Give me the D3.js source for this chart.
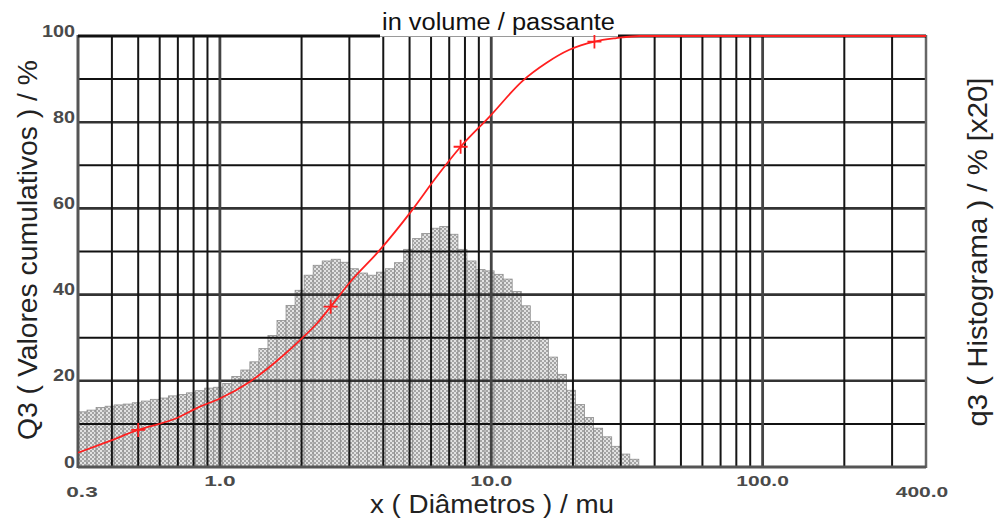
<!DOCTYPE html>
<html>
<head>
<meta charset="utf-8">
<script src="https://cdn.jsdelivr.net/npm/d3@7/dist/d3.min.js"></script>
<style>
  html, body { margin: 0; padding: 0; background: #fff; }
  svg { display: block; font-family: "Liberation Sans", Arial, sans-serif; }
</style>
</head>
<body>
<svg id="chart" width="995" height="524"></svg>
<script>
// Histogram class edges (diameter, µm) – 30 classes per decade
const binEdges = [
  0.3, 0.3239, 0.3498, 0.3777, 0.4078, 0.4403, 0.4755, 0.5134, 0.5543, 0.5986,
  0.6463, 0.6979, 0.7536, 0.8137, 0.8786, 0.9487, 1.0244, 1.1061, 1.1943, 1.2896,
  1.3925, 1.5036, 1.6235, 1.7530, 1.8929, 2.0439, 2.2069, 2.3830, 2.5731, 2.7784,
  3.0, 3.239, 3.498, 3.777, 4.078, 4.403, 4.755, 5.134, 5.543, 5.986,
  6.463, 6.979, 7.536, 8.137, 8.786, 9.487, 10.244, 11.061, 11.943, 12.896,
  13.925, 15.036, 16.235, 17.530, 18.929, 20.439, 22.069, 23.830, 25.731, 27.784,
  30.0, 32.39, 34.98
];

// q3 density per class (plotted ×20 on the left axis)
const q3Hist = [
  12.8, 13.2, 13.8, 14.1, 14.4, 14.6, 14.9, 15.3, 15.7, 16.0,
  16.5, 16.8, 17.2, 17.7, 18.3, 18.5, 19.4, 21.0, 22.5, 24.4,
  27.5, 30.5, 34.0, 37.5, 41.0, 44.5, 46.8, 47.8, 48.2, 47.5,
  46.0, 45.0, 44.5, 45.2, 46.0, 47.4, 50.5, 53.0, 54.2, 55.4,
  55.8, 54.0, 50.5, 47.8, 45.8, 45.5, 44.7, 43.6, 40.7, 37.4,
  33.8, 30.0, 25.5, 21.5, 17.8, 14.5, 11.5, 9.0, 7.0, 4.8,
  3.0, 1.8
];

// Cumulative passing curve Q3
const curveDiam = [0.3, 0.387, 0.5, 0.683, 0.844, 1.0, 1.29, 1.706, 1.97, 2.277, 2.56,
  3.01, 3.88, 5.01, 6.30, 7.71, 9.86, 13.05, 16.0, 19.4, 24.0, 28.9, 35.2, 400];
const curveQ3 = [3.3, 5.9, 8.6, 11.2, 14.0, 15.9, 19.8, 25.8, 29.4, 33.3, 37.2,
  42.8, 50.3, 58.9, 67.4, 74.3, 81.3, 89.6, 93.8, 96.8, 98.7, 99.5, 100, 100];

// Marked characteristic points on the curve
const markerDiam = [0.5, 2.56, 7.71, 24.0];
const markerQ3 = [8.6, 37.2, 74.3, 98.7];

// Grid and tick definitions
const gridDiamMinor = [0.4, 0.5, 0.6, 0.7, 0.8, 0.9, 2, 3, 4, 5, 6, 7, 8, 9,
  20, 30, 40, 50, 60, 70, 80, 90, 200, 300];
const gridDiamDecade = [1, 10, 100];
const gridQ3 = [10, 20, 30, 40, 50, 60, 70, 80, 90];
const yTickValues = [0, 20, 40, 60, 80, 100];
const xTickValues = [0.3, 1, 10, 100, 400];
const xTickText = ["0.3", "1.0", "10.0", "100.0", "400.0"];

const svg = d3.select("#chart");
const plotL = 78, plotR = 926, plotT = 36, plotB = 467;

const x = d3.scaleLog().domain([0.3, 400]).range([plotL, plotR]);
const y = d3.scaleLinear().domain([0, 100]).range([plotB, plotT]);

// dithered fill for the histogram
const defs = svg.append("defs");
const pat = defs.append("pattern")
  .attr("id", "dither").attr("width", 4).attr("height", 4)
  .attr("patternUnits", "userSpaceOnUse");
pat.append("rect").attr("width", 4).attr("height", 4).attr("fill", "#e2e2e2");
pat.append("rect").attr("x", 0).attr("y", 0).attr("width", 2).attr("height", 2).attr("fill", "#a4a4a4");
pat.append("rect").attr("x", 2).attr("y", 2).attr("width", 2).attr("height", 2).attr("fill", "#a4a4a4");

svg.append("rect").attr("width", 995).attr("height", 524).attr("fill", "#fff");

// histogram bars
const bins = q3Hist.map((v, i) => ({ x0: binEdges[i], x1: binEdges[i + 1], v }));
svg.append("g").selectAll("rect").data(bins).join("rect")
  .attr("x", d => x(d.x0))
  .attr("width", d => x(d.x1) - x(d.x0))
  .attr("y", d => y(d.v))
  .attr("height", d => y(0) - y(d.v))
  .attr("fill", "url(#dither)")
  .attr("stroke", "#8e8e8e")
  .attr("stroke-width", 0.8);

// horizontal grid
svg.append("g").selectAll("line").data(gridQ3).join("line")
  .attr("x1", plotL).attr("x2", plotR)
  .attr("y1", d => y(d)).attr("y2", d => y(d))
  .attr("stroke", d => d % 20 === 0 ? "#333" : "#111")
  .attr("stroke-width", d => d % 20 === 0 ? 2.6 : 2);

// vertical grid
svg.append("g").selectAll("line").data(gridDiamMinor).join("line")
  .attr("x1", d => x(d)).attr("x2", d => x(d))
  .attr("y1", plotT).attr("y2", plotB)
  .attr("stroke", "#151515").attr("stroke-width", 2);
svg.append("g").selectAll("line").data(gridDiamDecade).join("line")
  .attr("x1", d => x(d)).attr("x2", d => x(d))
  .attr("y1", plotT).attr("y2", plotB)
  .attr("stroke", "#444").attr("stroke-width", 2.8);

// frame
svg.append("line").attr("x1", plotL).attr("x2", plotL).attr("y1", plotT - 1).attr("y2", plotB + 1)
  .attr("stroke", "#555").attr("stroke-width", 3);
svg.append("line").attr("x1", plotR).attr("x2", plotR).attr("y1", plotT - 1).attr("y2", plotB + 1)
  .attr("stroke", "#666").attr("stroke-width", 2.5);
svg.append("line").attr("x1", plotL).attr("x2", plotR).attr("y1", plotB).attr("y2", plotB)
  .attr("stroke", "#555").attr("stroke-width", 3);

// title box interrupts the upper frame line
const titleX0 = 380, titleX1 = 618;
svg.append("line").attr("x1", plotL).attr("x2", titleX0).attr("y1", plotT).attr("y2", plotT)
  .attr("stroke", "#111").attr("stroke-width", 3);
svg.append("line").attr("x1", titleX0).attr("x2", titleX1).attr("y1", plotT + 0.5).attr("y2", plotT + 0.5)
  .attr("stroke", "#9a9a9a").attr("stroke-width", 1.2);
svg.append("line").attr("x1", titleX1).attr("x2", plotR).attr("y1", plotT).attr("y2", plotT)
  .attr("stroke", "#111").attr("stroke-width", 3);

// cumulative curve
const pts = curveDiam.map((d, i) => [x(d), y(curveQ3[i])]);
svg.append("path")
  .attr("d", d3.line().curve(d3.curveMonotoneX)(pts))
  .attr("fill", "none").attr("stroke", "#ff1f1f").attr("stroke-width", 1.8)
  .attr("stroke-linejoin", "round");

// + markers
const mk = markerDiam.map((d, i) => [x(d), y(markerQ3[i])]);
const mg = svg.append("g").attr("stroke", "#ff1f1f").attr("stroke-width", 1.8);
mg.selectAll("path").data(mk).join("path")
  .attr("d", d => `M${d[0] - 7},${d[1]}H${d[0] + 7}M${d[0]},${d[1] - 7}V${d[1] + 7}`);

// left tick labels
svg.append("g").selectAll("text").data(yTickValues).join("text")
  .attr("x", 75).attr("y", d => y(d) + 0.5)
  .attr("text-anchor", "end")
  .attr("font-size", 16).attr("font-weight", "bold").attr("fill", "#4a4a4a")
  .attr("textLength", d => String(d).length * 11)
  .attr("lengthAdjust", "spacingAndGlyphs")
  .text(d => d);

// bottom tick labels (end values on a lower row)
const xTickData = xTickValues.map((v, i) => ({ v, t: xTickText[i], low: i === 0 || i === xTickValues.length - 1 }));
svg.append("g").selectAll("text").data(xTickData).join("text")
  .attr("x", d => x(d.v) + (d.v === 0.3 ? 4 : d.v === 400 ? -4 : 0))
  .attr("y", d => d.low ? 497 : 486)
  .attr("text-anchor", "middle")
  .attr("font-size", 15).attr("font-weight", "bold").attr("fill", "#4a4a4a")
  .attr("textLength", d => d.t.length * 10.5)
  .attr("lengthAdjust", "spacingAndGlyphs")
  .text(d => d.t);

// title
svg.append("rect").attr("x", titleX0).attr("y", 0).attr("width", titleX1 - titleX0).attr("height", plotT - 1)
  .attr("fill", "#fff");
svg.append("text").attr("x", 382).attr("y", 30)
  .attr("font-size", 23).attr("fill", "#111")
  .attr("textLength", 233).attr("lengthAdjust", "spacingAndGlyphs")
  .text("in volume / passante");

// axis titles
svg.append("text").attr("x", 370).attr("y", 513)
  .attr("font-size", 26).attr("fill", "#222")
  .attr("textLength", 244).attr("lengthAdjust", "spacingAndGlyphs")
  .text("x ( Diâmetros ) / mu");

svg.append("text")
  .attr("transform", "translate(37,250) rotate(-90)")
  .attr("text-anchor", "middle")
  .attr("font-size", 28).attr("fill", "#222")
  .attr("textLength", 380).attr("lengthAdjust", "spacingAndGlyphs")
  .text("Q3 ( Valores cumulativos ) / %");

svg.append("text")
  .attr("transform", "translate(987,252) rotate(-90)")
  .attr("text-anchor", "middle")
  .attr("font-size", 28).attr("fill", "#222")
  .attr("textLength", 349).attr("lengthAdjust", "spacingAndGlyphs")
  .text("q3 ( Histograma ) / % [x20]");
</script>
</body>
</html>
